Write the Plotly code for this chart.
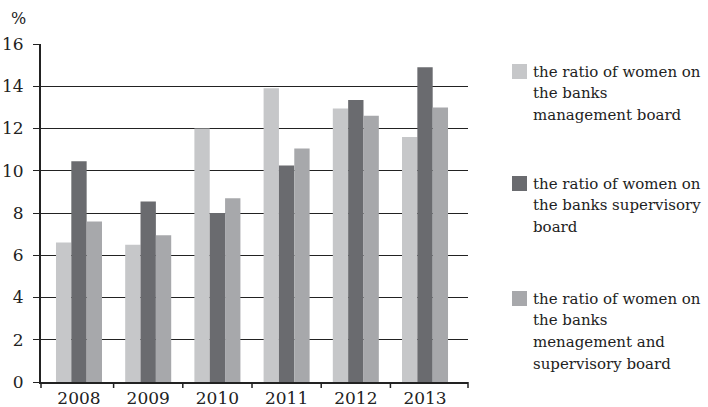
import plotly.graph_objects as go

years = ["2008", "2009", "2010", "2011", "2012", "2013"]
management = [6.6, 6.5, 12.0, 13.9, 12.95, 11.6]
supervisory = [10.45, 8.55, 8.0, 10.25, 13.35, 14.9]
combined = [7.6, 6.95, 8.7, 11.05, 12.6, 13.0]

labels = [
    ["the ratio of women on", "the banks", "management board"],
    ["the ratio of women on", "the banks supervisory", "board"],
    ["the ratio of women on", "the banks", "menagement and", "supervisory board"],
]
colors = ["#c6c7c9", "#6a6b6f", "#a7a8ab"]
y_ticks = [0, 2, 4, 6, 8, 10, 12, 14, 16]

FONT = "DejaVu Serif"
W, H = 708, 407
L, R, T, B = 41, 240, 44, 25
PW, PH = W - L - R, H - T - B
TICK = 6 / PH


def px_x(px):
    """Horizontal pixel -> paper fraction."""
    return (px - L) / PW


def px_y(py):
    """Vertical pixel (from top) -> paper fraction."""
    return (H - B - py) / PH


fig = go.Figure()
for vals, lines, col in zip([management, supervisory, combined], labels, colors):
    fig.add_trace(go.Bar(
        x=years, y=vals, name=" ".join(lines),
        marker=dict(color=col, line=dict(width=0)),
    ))

# Legend drawn by hand: swatch plus wrapped text lines
shapes, annotations = [], []
swatch_tops = [64, 176, 291]
line_step = 21.7
for lines, col, top in zip(labels, colors, swatch_tops):
    shapes.append(dict(
        type="rect", xref="paper", yref="paper",
        x0=px_x(512), x1=px_x(527), y0=px_y(top + 15), y1=px_y(top),
        fillcolor=col, line=dict(width=0), layer="above",
    ))
    for k, line in enumerate(lines):
        annotations.append(dict(
            text=line, xref="paper", yref="paper",
            x=px_x(531), y=px_y(top + 7.5 + k * line_step),
            xanchor="left", yanchor="middle", showarrow=False,
            font=dict(family=FONT, size=15, color="#222"),
        ))

# Category separators below the x axis: between years, plus both axis ends
tick_line = dict(color="#222", width=1.5)
for k in range(1, len(years)):
    shapes.append(dict(
        type="line", xref="x", yref="paper",
        x0=k - 0.5, x1=k - 0.5, y0=0, y1=-TICK, line=tick_line,
    ))
for xe in (0, 1):
    shapes.append(dict(
        type="line", xref="paper", yref="paper",
        x0=xe, x1=xe, y0=0, y1=-TICK, line=tick_line,
    ))

annotations.append(dict(
    text="%", xref="paper", yref="paper", x=px_x(9), y=px_y(19),
    xanchor="left", yanchor="middle", showarrow=False,
    font=dict(family=FONT, size=16, color="#222"),
))

fig.update_layout(
    width=W, height=H,
    margin=dict(l=L, r=R, t=T, b=B, autoexpand=False),
    paper_bgcolor="white", plot_bgcolor="white",
    barmode="group", bargap=0.335, bargroupgap=0,
    font=dict(family=FONT, size=16, color="#222"),
    showlegend=False,
    xaxis=dict(
        type="category", range=[-0.549, 5.621],
        showgrid=False, showline=True, linecolor="#222", linewidth=1.5,
        ticks="outside", tickson="boundaries", ticklen=6,
        tickcolor="rgba(0,0,0,0)",
        tickfont=dict(size=17), automargin=False,
    ),
    yaxis=dict(
        range=[0, 16], tickvals=y_ticks, showgrid=True, gridcolor="#222", gridwidth=1.3,
        showline=True, linecolor="#222", linewidth=1.8, zeroline=False,
        ticks="outside", ticklen=6, tickcolor="#222", tickwidth=1.3,
        tickfont=dict(size=17), ticklabelstandoff=6, automargin=False,
    ),
    shapes=shapes,
    annotations=annotations,
)

fig.write_html("out.html")
